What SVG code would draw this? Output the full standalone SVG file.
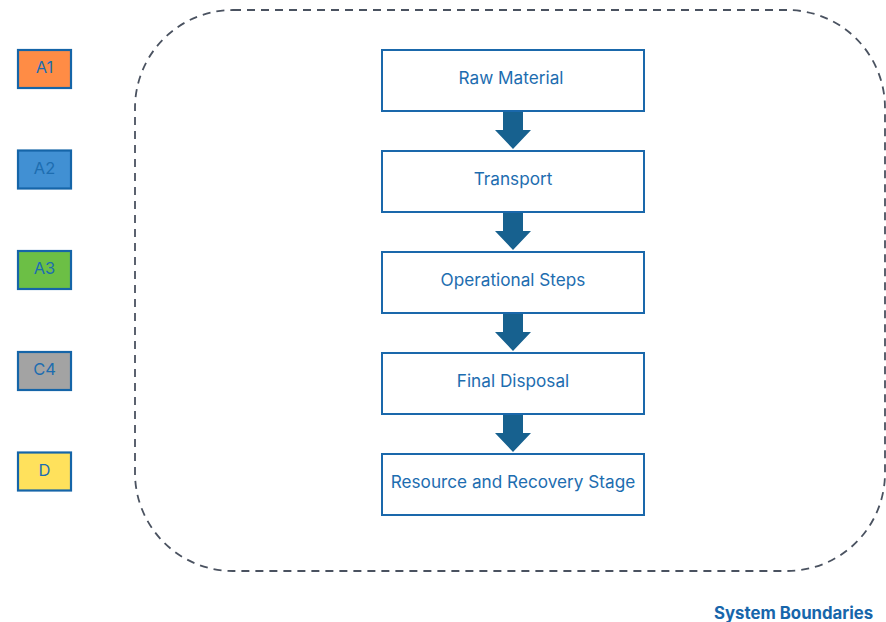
<svg xmlns="http://www.w3.org/2000/svg" width="886" height="622" viewBox="0 0 886 622">
  <defs>
    <style>
      .key rect { stroke: #1565a8; stroke-width: 2.2; }
      .key text { font-family: Inter, "Noto Sans", sans-serif; font-size: 16.5px; fill: #1d6db0; text-anchor: middle; }
      .step rect { fill: #ffffff; stroke: #1a68ab; stroke-width: 2; }
      .step text { font-family: Inter, "Noto Sans", sans-serif; font-size: 17.2px; fill: #1d6db0; text-anchor: middle; }
      .flow { fill: #17618f; }
      .boundary { fill: none; stroke: #4a5260; stroke-width: 1.8; stroke-dasharray: 8 6; }
      .caption { font-family: Inter, "Noto Sans", sans-serif; font-size: 16.8px; font-weight: 700; fill: #1766ab; }
    </style>
    <path id="down-arrow" d="M-10 0 H10 V18 H18 L0 37 L-18 18 H-10 Z"/>
  </defs>
  <rect width="886" height="622" fill="#ffffff"/>

  <!-- system boundary -->
  <rect class="boundary" x="135" y="10" width="750" height="561" rx="98" ry="98"/>

  <!-- legend keys -->
  <g id="key-a1" class="key"><rect x="18" y="50" width="53" height="38" fill="#ff8c45"/><text x="44.5" y="73">A1</text></g>
  <g id="key-a2" class="key"><rect x="18" y="150.5" width="53" height="38" fill="#4190d3"/><text x="44.5" y="173.5">A2</text></g>
  <g id="key-a3" class="key"><rect x="18" y="251" width="53" height="38" fill="#6cbf45"/><text x="44.5" y="274">A3</text></g>
  <g id="key-c4" class="key"><rect x="18" y="352" width="53" height="38" fill="#a3a3a3"/><text x="44.5" y="375">C4</text></g>
  <g id="key-d" class="key"><rect x="18" y="452.5" width="53" height="38" fill="#ffe15c"/><text x="44.5" y="475.5">D</text></g>

  <!-- process steps -->
  <g id="step-raw-material" class="step"><rect x="382" y="50" width="262" height="61"/><text x="511" y="84">Raw Material</text></g>
  <g id="step-transport" class="step"><rect x="382" y="151" width="262" height="61"/><text x="513" y="185">Transport</text></g>
  <g id="step-operational" class="step"><rect x="382" y="252" width="262" height="61"/><text x="513" y="286">Operational Steps</text></g>
  <g id="step-final-disposal" class="step"><rect x="382" y="353" width="262" height="61"/><text x="513" y="387">Final Disposal</text></g>
  <g id="step-recovery" class="step"><rect x="382" y="454" width="262" height="61"/><text x="513" y="488">Resource and Recovery Stage</text></g>

  <!-- flow arrows -->
  <g id="connectors" class="flow">
    <use href="#down-arrow" x="513" y="112"/>
    <use href="#down-arrow" x="513" y="213"/>
    <use href="#down-arrow" x="513" y="314"/>
    <use href="#down-arrow" x="513" y="415"/>
  </g>

  <text class="caption" x="714" y="619">System Boundaries</text>
</svg>
